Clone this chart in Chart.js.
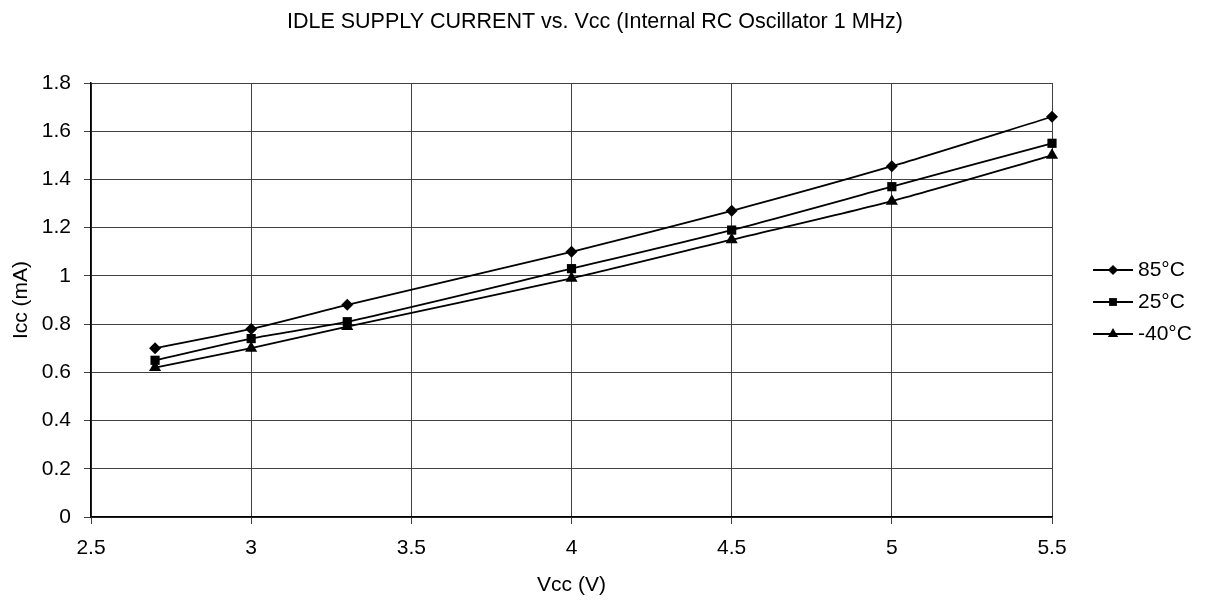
<!DOCTYPE html>
<html>
<head>
<meta charset="utf-8">
<script src="https://cdn.jsdelivr.net/npm/chart.js@4/dist/chart.umd.min.js"></script>
<style>
  html, body { margin: 0; padding: 0; background: #fff; }
  #wrap { width: 1207px; height: 602px; }
</style>
</head>
<body>
<div id="wrap"><canvas id="chart" width="1207" height="602"></canvas></div>
<script>
// data
const vcc      = [2.7, 3.0, 3.3, 4.0, 4.5, 5.0, 5.5];
const icc85    = [0.70, 0.78, 0.88, 1.10, 1.27, 1.455, 1.66];
const icc25    = [0.65, 0.74, 0.81, 1.03, 1.19, 1.37, 1.55];
const iccM40   = [0.62, 0.70, 0.79, 0.99, 1.15, 1.31, 1.50];
const labels   = ['85°C', '25°C', '-40°C'];
const markers  = ['rectRot', 'rect', 'triangle'];
const radii    = [6, 6.5, 7];
const TITLE    = 'IDLE SUPPLY CURRENT vs. Vcc (Internal RC Oscillator 1 MHz)';

const FONT = '"Liberation Sans", Arial, sans-serif';
const toXY = (ys) => vcc.map((x, i) => ({ x, y: ys[i] }));

const series = [icc85, icc25, iccM40].map((ys, i) => ({
  label: labels[i],
  data: toXY(ys),
  borderColor: '#000',
  backgroundColor: '#000',
  borderWidth: 1.8,
  pointStyle: markers[i],
  pointRadius: radii[i],
  pointBorderWidth: 0,
  tension: 0.25,
  clip: false,
}));

// title + legend drawn by hand (title centred on the page, legend with line through marker)
const extras = {
  id: 'extras',
  afterDraw(chart) {
    const { ctx } = chart;
    ctx.save();
    ctx.fillStyle = '#000';
    ctx.font = '21.5px ' + FONT;
    ctx.textAlign = 'center';
    ctx.textBaseline = 'alphabetic';
    ctx.fillText(TITLE, 595, 28);

    const x0 = 1093, x1 = 1133, rows = [270, 302, 334];
    chart.data.datasets.forEach((ds, i) => {
      const y = rows[i];
      ctx.strokeStyle = '#000';
      ctx.lineWidth = 1.8;
      ctx.beginPath(); ctx.moveTo(x0, y); ctx.lineTo(x1, y); ctx.stroke();
      Chart.helpers.drawPoint(ctx, { pointStyle: ds.pointStyle, radius: ds.pointRadius * 0.85, borderWidth: 0 }, (x0 + x1) / 2, y);
      ctx.font = '21px ' + FONT;
      ctx.textBaseline = 'middle';
      ctx.textAlign = 'left';
      ctx.fillText(ds.label, x1 + 5, y);
    });
    ctx.restore();
  }
};

new Chart(document.getElementById('chart'), {
  type: 'line',
  data: { datasets: series },
  plugins: [extras],
  options: {
    responsive: false,
    animation: false,
    layout: { padding: { left: 0, right: 155, top: 83, bottom: 0 } },
    plugins: {
      legend: { display: false },
      tooltip: { enabled: false },
      title: { display: false },
    },
    scales: {
      x: {
        type: 'linear',
        min: 2.5, max: 5.5,
        ticks: { stepSize: 0.5, color: '#000', padding: 12, font: { family: FONT, size: 21 },
                 callback: (v) => String(Math.round(v * 10) / 10) },
        grid: { color: '#404040', lineWidth: 1, tickLength: 7 },
        border: { color: '#000', width: 1.5 },
        title: { display: true, text: 'Vcc (V)', color: '#000', font: { family: FONT, size: 21 }, padding: { top: 0, bottom: 4 } },
        afterFit: (s) => { s.height = 85; },
      },
      y: {
        min: 0, max: 1.8,
        ticks: { stepSize: 0.2, color: '#000', padding: 13, font: { family: FONT, size: 21 },
                 callback: (v) => String(Math.round(v * 10) / 10) },
        grid: { color: '#404040', lineWidth: 1, tickLength: 7 },
        border: { color: '#000', width: 1.5 },
        title: { display: true, text: 'Icc (mA)', color: '#000', font: { family: FONT, size: 21 }, padding: { top: 9, bottom: 0 } },
        afterFit: (s) => { s.width = 91; },
      },
    },
  },
});
</script>
</body>
</html>
